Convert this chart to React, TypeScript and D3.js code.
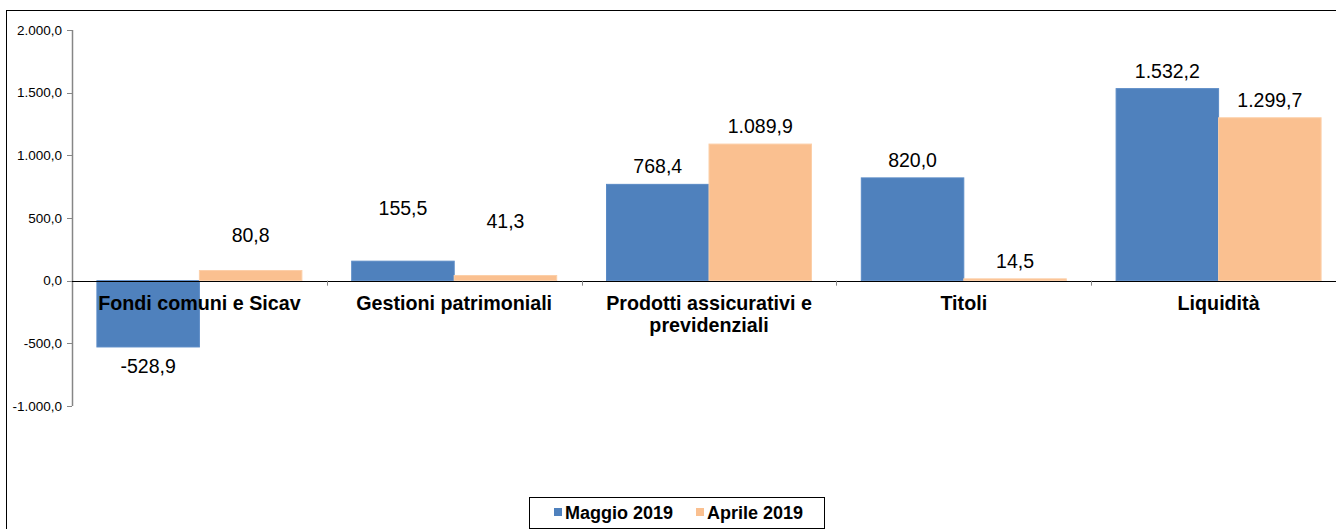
import React from "react";
import * as d3 from "d3";

const categories: string[][] = [
  ["Fondi comuni e Sicav"],
  ["Gestioni patrimoniali"],
  ["Prodotti assicurativi e", "previdenziali"],
  ["Titoli"],
  ["Liquidità"],
];
const seriesNames = ["Maggio 2019", "Aprile 2019"];
const maggio = [-528.9, 155.5, 768.4, 820.0, 1532.2];
const aprile = [80.8, 41.3, 1089.9, 14.5, 1299.7];
const yTicks = [-1000, -500, 0, 500, 1000, 1500, 2000];
const colors = ["#4F81BD", "#FAC090"];
const strokeColors = ["#5B8BC6", "#FCCFA8"];

// manual label nudges (px) as in the reference, keyed series-category
const labelNudge: Record<string, number> = { "1-0": -18, "0-1": -35, "1-1": -36 };

const fmt = (v: number) => {
  const s = Math.abs(v).toFixed(1).split(".");
  const int = s[0].replace(/\B(?=(\d{3})+(?!\d))/g, ".");
  return (v < 0 ? "-" : "") + int + "," + s[1];
};

export default function App() {
  const W = 1336, H = 529;
  const plotL = 72, plotR = 1346, plotT = 30, plotB = 406;
  const y = d3.scaleLinear().domain([-1000, 2000]).range([plotB, plotT]);
  const keys = categories.map((c) => c.join(" "));
  const x = d3.scaleBand<string>().domain(keys).range([plotL, plotR]).paddingInner(0).paddingOuter(0);
  const x1 = d3.scaleBand<number>().domain([0, 1]).range([0, x.bandwidth()]).paddingInner(0).paddingOuter(0.243);
  const series = [maggio, aprile];
  const y0 = y(0);
  const font = "Arial, 'Liberation Sans', sans-serif";

  return (
    <div style={{ position: "absolute", left: 0, top: 0 }}>
      <svg width={W} height={H} style={{ display: "block", fontFamily: font }}>
        <rect x={0} y={0} width={W} height={H} fill="#fff" />
        <rect x={6.5} y={10.5} width={W + 20} height={H + 20} fill="none" stroke="#000" strokeWidth={1} />
        {/* y axis */}
        <line x1={plotL + 0.5} x2={plotL + 0.5} y1={plotT} y2={plotB} stroke="#868686" strokeWidth={1.5} />
        {yTicks.map((t) => (
          <g key={t}>
            <line x1={plotL - 5} x2={plotL} y1={Math.round(y(t)) + 0.5} y2={Math.round(y(t)) + 0.5} stroke="#868686" />
            <text x={plotL - 10} y={y(t) + 4.5} textAnchor="end" fontSize={13.5} fill="#000">
              {fmt(t)}
            </text>
          </g>
        ))}
        {/* bars */}
        {series.map((vals, si) =>
          vals.map((v, ci) => {
            const bx = (x(keys[ci]) as number) + (x1(si) as number);
            const top = Math.min(y(v), y0);
            const h = Math.abs(y(v) - y0);
            return (
              <rect key={`${si}-${ci}`} x={bx} y={top} width={x1.bandwidth()} height={h}
                fill={colors[si]} stroke={strokeColors[si]} strokeWidth={1} />
            );
          })
        )}
        {/* zero line */}
        <line x1={plotL} x2={W} y1={Math.round(y0) + 0.5} y2={Math.round(y0) + 0.5} stroke="#000" strokeWidth={1} />
        {keys.slice(1).map((k) => (
          <line key={k} x1={Math.round(x(k) as number) + 0.5} x2={Math.round(x(k) as number) + 0.5}
            y1={y0} y2={y0 + 5} stroke="#868686" />
        ))}
        {/* data labels */}
        {series.map((vals, si) =>
          vals.map((v, ci) => {
            const cx = (x(keys[ci]) as number) + (x1(si) as number) + x1.bandwidth() / 2;
            const base = v >= 0 ? y(v) - 11 : y(v) + 26;
            const ny = base + (labelNudge[`${si}-${ci}`] || 0);
            return (
              <text key={`l${si}-${ci}`} x={cx} y={ny} textAnchor="middle" fontSize={19.5} fill="#000">
                {fmt(v)}
              </text>
            );
          })
        )}
        {/* category labels */}
        {categories.map((lines, ci) => (
          <text key={keys[ci]} x={(x(keys[ci]) as number) + x.bandwidth() / 2} y={310}
            textAnchor="middle" fontSize={19.7} fontWeight="bold" fill="#000">
            {lines.map((ln, li) => (
              <tspan key={li} x={(x(keys[ci]) as number) + x.bandwidth() / 2} dy={li === 0 ? 0 : 22}>
                {ln}
              </tspan>
            ))}
          </text>
        ))}
        {/* legend */}
        <rect x={529.5} y={497.5} width={295} height={31} fill="#fff" stroke="#000" strokeWidth={1} />
        {seriesNames.map((n, i) => {
          const lx = [554, 696][i];
          return (
            <g key={n}>
              <rect x={lx} y={508} width={8} height={8} fill={colors[i]} />
              <text x={lx + 11} y={519} fontSize={18} fontWeight="bold" fill="#000">
                {n}
              </text>
            </g>
          );
        })}
      </svg>
    </div>
  );
}
